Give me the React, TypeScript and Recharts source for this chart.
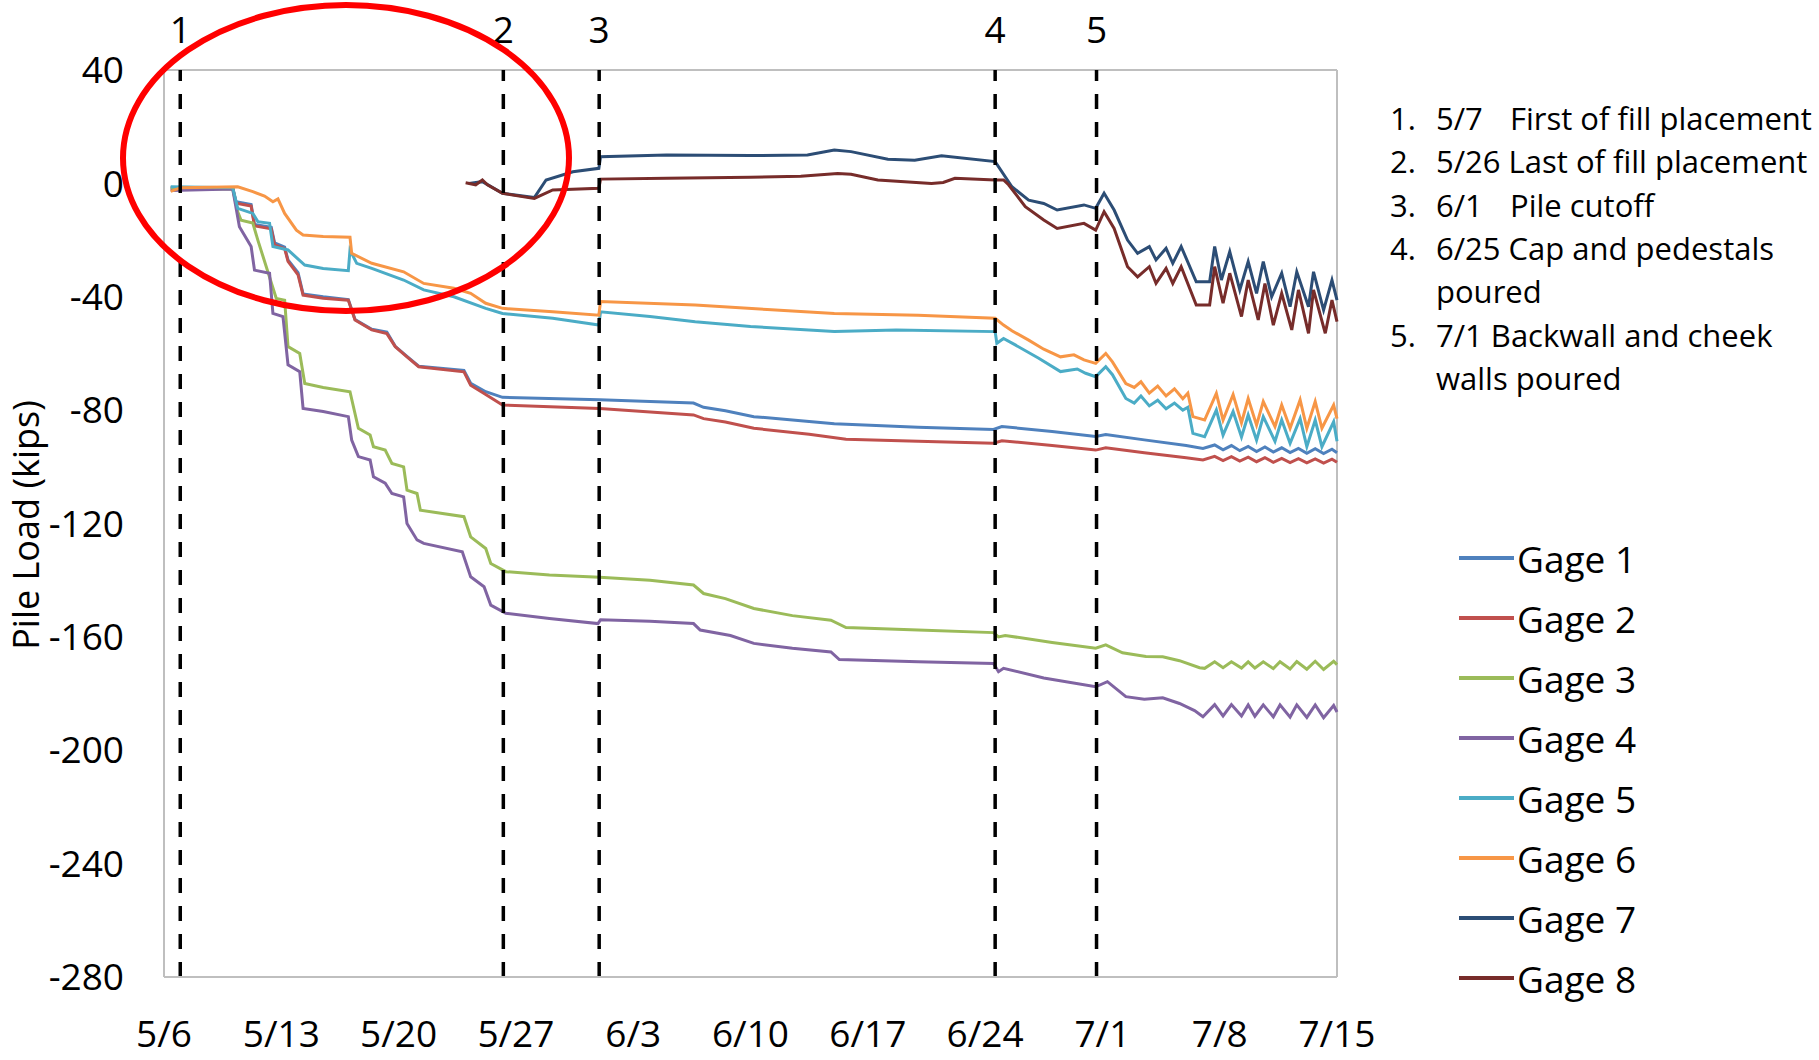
import { LineChart, Line, XAxis, YAxis, ReferenceLine } from "recharts";

type Pt = [number, number];

// days counted from 5/6
const dayTicks = [0, 7, 14, 21, 28, 35, 42, 49, 56, 63, 70];
const dateLabels = ["5/6", "5/13", "5/20", "5/27", "6/3", "6/10", "6/17", "6/24", "7/1", "7/8", "7/15"];
const loadTicks = [-280, -240, -200, -160, -120, -80, -40, 0, 40];

const eventDays = [0.97, 20.25, 25.97, 49.6, 55.65];
const eventDates = ["5/7", "5/26", "6/1", "6/25", "7/1"];
const eventTabbed = [true, false, true, false, false];
const eventNotes = [
  ["First of fill placement"],
  ["Last of fill placement"],
  ["Pile cutoff"],
  ["Cap and pedestals", "poured"],
  ["Backwall and cheek", "walls poured"],
];

const gageNames = ["Gage 1", "Gage 2", "Gage 3", "Gage 4", "Gage 5", "Gage 6", "Gage 7", "Gage 8"];
const gageColors = ["#4F81BD", "#C0504D", "#9BBB59", "#8064A2", "#4BACC6", "#F79646", "#2C4D75", "#772C2A"];

const gage1: Pt[] = [
  [0.4, -1.5], [4.1, -1.5], [4.3, -6.5], [5.2, -7.5], [5.4, -14.5], [6.4, -15.5], [6.6, -21], [7.2, -22.5],
  [7.4, -27], [8.0, -31.5], [8.3, -39], [9.5, -40], [11.0, -41], [11.4, -48], [12.4, -51.5], [13.3, -52.5],
  [13.8, -57.5], [14.5, -61], [15.2, -64.5], [17.9, -66], [18.3, -70.5], [19.2, -73.5], [20.2, -75.5],
  [26, -76.3], [31.6, -77.5], [32.2, -79], [33.5, -80.2], [35.2, -82.3], [38.5, -84], [40, -84.8], [45, -86],
  [49.5, -86.8], [50, -85.8], [53, -87.5], [55.6, -89.3], [56.2, -88.6], [58.5, -90.5], [61, -92.5], [62, -93.5],
  [62.7, -92.3], [63.2, -94], [63.7, -92.5], [64.2, -94.3], [64.7, -92.8], [65.2, -94.6], [65.7, -93], [66.2, -94.8],
  [66.7, -93.3], [67.2, -95], [67.7, -93.5], [68.2, -95.2], [68.7, -93.6], [69.2, -95.3], [69.7, -93.8], [70, -95],
];

const gage2: Pt[] = [
  [0.4, -1.5], [4.1, -1.5], [4.3, -7], [5.2, -8], [5.4, -15], [6.4, -16], [6.6, -21.7], [7.2, -23],
  [7.4, -27.5], [8.0, -32.3], [8.3, -39.4], [9.5, -40.5], [11.0, -41.2], [11.4, -48.2], [12.4, -51.7], [13.3, -53],
  [13.8, -57.6], [14.5, -61.2], [15.2, -64.7], [17.9, -66.5], [18.3, -71.2], [19.2, -74.5], [20.2, -78.2],
  [26, -79.4], [31.6, -81.7], [32.2, -83], [33.5, -84.2], [35.2, -86.4], [38.5, -88.5], [40.7, -90.3], [45, -91],
  [49.5, -91.7], [50, -90.8], [53, -92.5], [55.6, -94.1], [56.2, -93.3], [58.5, -95], [61, -96.8], [62, -97.6],
  [62.7, -96.3], [63.2, -97.8], [63.7, -96.4], [64.2, -98], [64.7, -96.6], [65.2, -98.2], [65.7, -96.8], [66.2, -98.4],
  [66.7, -97], [67.2, -98.5], [67.7, -97.1], [68.2, -98.6], [68.7, -97.2], [69.2, -98.7], [69.7, -97.3], [70, -98.4],
];

const gage3: Pt[] = [
  [0.4, -2], [4.1, -2], [4.4, -10], [4.6, -13], [5.3, -14], [5.6, -20], [6.7, -40.6], [7.2, -41.2],
  [7.4, -57.6], [8.1, -60], [8.4, -70.6], [9.5, -72], [11.1, -73.5], [11.6, -86.4], [12.3, -88.8], [12.5, -92.9],
  [13.2, -94.1], [13.6, -98.8], [14.3, -100], [14.5, -108.2], [15.1, -109.4], [15.3, -115.3], [17.9, -117.6],
  [18.3, -124.7], [19.2, -128.8], [19.5, -134.1], [20.4, -137], [23, -138.2], [26, -139], [29, -140],
  [31.6, -141.7], [32.2, -144.7], [33.5, -146.5], [35.2, -150], [37.5, -152.5], [39.8, -154.1], [40.7, -156.7],
  [45, -157.6], [49.5, -158.5], [49.8, -160], [50.2, -159.5], [53, -162], [55.6, -164], [56.2, -162.8],
  [57.2, -165.6], [58.6, -166.9], [59.6, -167], [60.6, -168.4], [61.8, -170.9], [62.1, -171.1], [62.7, -168.8],
  [63.2, -170.9], [63.7, -168.8], [64.3, -171], [64.7, -168.8], [65.1, -171], [65.6, -168.8], [66.2, -171.2],
  [66.6, -168.8], [67.2, -171.3], [67.6, -168.7], [68.2, -171.4], [68.7, -168.6], [69.2, -171.5], [69.8, -168.6],
  [70, -169.8],
];

const gage4: Pt[] = [
  [0.4, -2.5], [4.1, -2], [4.5, -15.3], [5.2, -22.3], [5.4, -30.6], [6.3, -31.7], [6.5, -45.9], [7.1, -47],
  [7.4, -64], [8.1, -66.4], [8.3, -79.4], [9.5, -80.5], [11.0, -82.3], [11.2, -90.6], [11.6, -96.4], [12.3, -97.6],
  [12.5, -103.5], [13.2, -105.8], [13.6, -109.4], [14.3, -110.6], [14.5, -120], [15.1, -125.8], [15.5, -127],
  [17.8, -130], [18.3, -138.8], [19.1, -142.3], [19.5, -148.8], [20.4, -151.7], [23, -153.5], [25.9, -155.3],
  [26.05, -154], [29, -154.5], [31.6, -155.3], [32, -157.6], [33.8, -159.5], [35.2, -162.3], [37.5, -164],
  [39.8, -165.3], [40.3, -168], [45, -168.8], [49.5, -169.4], [49.8, -172.3], [50.1, -171.1], [52.5, -174.5],
  [55.6, -177.6], [56.3, -175.8], [57.4, -181.1], [58.5, -182], [59.6, -181.5], [60.6, -183.5], [61.5, -186],
  [62, -188.2], [62.7, -183.9], [63.2, -187.9], [63.7, -183.9], [64.3, -187.9], [64.7, -184], [65.1, -188],
  [65.6, -184], [66.2, -188.2], [66.6, -184], [67.2, -188.3], [67.6, -184], [68.2, -188.4], [68.7, -184],
  [69.2, -188.5], [69.8, -184.2], [70, -186.5],
];

const gage5: Pt[] = [
  [0.4, -1.2], [4.1, -1.5], [4.4, -8.8], [5.3, -10.6], [5.6, -13.5], [6.3, -14.1], [6.5, -22.3], [7.4, -23.5],
  [8.4, -28.8], [9.5, -30], [11.0, -30.8], [11.1, -23.5], [11.5, -28.2], [12.4, -30], [14.3, -34.1], [15.5, -37.6],
  [17.3, -40], [19.2, -44.1], [20.2, -45.9], [23.2, -47.6], [25.95, -50], [26.05, -45.3], [29, -47], [31.7, -48.8],
  [35, -50.5], [40, -52.3], [43.7, -51.7], [49.6, -52.3], [49.7, -56.4], [50.1, -54.7], [50.8, -57], [52.2, -61.7],
  [53.5, -66.4], [54.5, -65.5], [55, -67], [55.6, -68.2], [56.2, -64.7], [56.6, -67.5], [57.4, -75.9], [57.9, -77.5],
  [58.3, -75], [58.8, -78.5], [59.3, -76.5], [59.8, -79.5], [60.3, -77.5], [60.8, -80], [61.1, -79], [61.4, -88.2],
  [62.1, -89.4], [62.8, -80], [63.2, -88.8], [63.8, -80.5], [64.3, -89.5], [64.7, -81.7], [65.2, -90.6], [65.6, -82.3],
  [66.3, -91], [66.7, -83.5], [67.2, -91.7], [67.8, -83], [68.2, -92.9], [68.7, -83.5], [69.1, -92.9], [69.8, -84.1],
  [70, -91],
];

const gage6: Pt[] = [
  [0.4, -2.8], [1, -1.5], [4.4, -1.2], [5.3, -2.9], [6.0, -4.5], [6.5, -6.5], [6.8, -5.5], [7.2, -10.6],
  [7.9, -16.5], [8.3, -18.2], [9.5, -18.7], [11.1, -19], [11.2, -24.7], [12.4, -28.2], [14.3, -31.2], [15.5, -35.3],
  [17.3, -37], [18.3, -38.8], [19.2, -42.3], [20.2, -44.1], [23.2, -45.3], [25.95, -46.5], [26.05, -41.7],
  [31.7, -42.9], [36, -44.5], [40, -45.9], [45, -46.5], [49.6, -47.6], [50.1, -50], [50.6, -52], [51.6, -55.3],
  [52.5, -58.5], [53.5, -61.2], [54.3, -60.5], [54.9, -62.3], [55.6, -63.5], [56.2, -60], [56.6, -63], [57.4, -70.6],
  [57.9, -72], [58.3, -70], [58.8, -74], [59.3, -71.5], [59.8, -75], [60.3, -72.5], [60.8, -76], [61.1, -74],
  [61.4, -82.3], [62.1, -83.5], [62.8, -74.1], [63.2, -83.5], [63.8, -74.5], [64.3, -84.5], [64.7, -75.9],
  [65.2, -85.3], [65.6, -77], [66.3, -85.8], [66.7, -78.2], [67.2, -86.4], [67.8, -76.4], [68.2, -86.4],
  [68.7, -77], [69.1, -86.4], [69.8, -78.2], [70, -83],
];

const gage7: Pt[] = [
  [18.2, 0], [19, 0.6], [20.2, -3.5], [22.1, -5], [22.8, 1.2], [24.4, 4.1], [25.95, 5.3], [26.05, 9.4],
  [30, 10], [35, 9.8], [38.4, 10], [40, 11.8], [41, 11.2], [43.2, 8.5], [44.8, 8.2], [46.4, 9.7], [49.6, 7.7],
  [50.6, -1.2], [51.6, -5.9], [52.5, -7.1], [53.3, -9.4], [54.9, -7.6], [55.6, -8.8], [56.1, -3.5], [56.7, -9.4],
  [57.5, -20], [58.1, -24.7], [58.8, -22.3], [59.2, -27], [59.8, -22.9], [60.2, -28.2], [60.7, -22.3],
  [61.6, -34.7], [62.4, -34.7], [62.7, -22.3], [63.1, -34.1], [63.6, -24.1], [64.2, -37.6], [64.7, -27.6],
  [65.2, -38.8], [65.6, -27.6], [66.1, -40], [66.7, -31.7], [67.2, -43.5], [67.6, -31.2], [68.3, -43.5],
  [68.6, -31.2], [69.2, -44.7], [69.7, -34.1], [70, -41.2],
];

const gage8: Pt[] = [
  [18.0, 0.2], [18.6, -0.5], [19, 1.2], [19.3, -0.5], [20.2, -3.5], [22.1, -5.3], [23.2, -2.3], [25.95, -1.75],
  [26.05, 1.5], [30, 1.8], [35, 2.2], [38, 2.5], [40.2, 3.5], [41, 3.2], [42.6, 1.2], [45.8, 0], [46.5, 0.3],
  [47.2, 1.8], [49.6, 1.2], [50.1, 1.2], [50.4, -0.5], [51.4, -8.2], [52.5, -12.9], [53.3, -15.9], [54.9, -14.1],
  [55.6, -16.5], [56.1, -10], [56.7, -15.9], [57.5, -29.4], [58.1, -33], [58.8, -29.4], [59.2, -35.3], [59.8, -30],
  [60.2, -35.3], [60.7, -29.4], [61.6, -42.9], [62.4, -42.9], [62.7, -29.4], [63.2, -42.3], [63.6, -31.7],
  [64.3, -47], [64.7, -34.1], [65.3, -48.2], [65.7, -35.3], [66.2, -50], [66.7, -38.8], [67.3, -51.7],
  [67.7, -37.6], [68.3, -52.9], [68.6, -37.6], [69.3, -52.9], [69.7, -41.2], [70, -48.8],
];

const gages = [gage1, gage2, gage3, gage4, gage5, gage6, gage7, gage8];

const toRows = (pts: Pt[]) => pts.map(([day, load]) => ({ day, load }));

const FONT = "'Open Sans', 'Noto Sans', sans-serif";
const AXIS_GRAY = "#bfbfbf";

export default function App() {
  return (
    <div
      style={{
        position: "absolute",
        left: 0,
        top: 0,
        width: 1819,
        height: 1060,
        background: "#fff",
        fontFamily: FONT,
      }}
    >
      <LineChart width={1819} height={1060} margin={{ top: 70, right: 482, bottom: 23, left: 44 }}>
        <XAxis
          dataKey="day"
          type="number"
          domain={[0, 70]}
          ticks={dayTicks}
          interval={0}
          tickFormatter={(d: number) => dateLabels[dayTicks.indexOf(d)]}
          stroke={AXIS_GRAY}
          strokeWidth={2}
          tickLine={false}
          tickSize={0}
          tickMargin={44}
          height={60}
          tick={{ fill: "#000", fontSize: 37 }}
        />
        <YAxis
          type="number"
          domain={[-280, 40]}
          ticks={loadTicks}
          interval={0}
          stroke={AXIS_GRAY}
          strokeWidth={2}
          tickLine={false}
          tickSize={0}
          tickMargin={40}
          width={120}
          tick={{ fill: "#000", fontSize: 37 }}
        />
        <ReferenceLine y={40} stroke={AXIS_GRAY} strokeWidth={2} />
        <ReferenceLine x={70} stroke={AXIS_GRAY} strokeWidth={2} />
        {gages.map((pts, i) => (
          <Line
            key={gageNames[i]}
            data={toRows(pts)}
            dataKey="load"
            name={gageNames[i]}
            type="linear"
            stroke={gageColors[i]}
            strokeWidth={3}
            dot={false}
            activeDot={false}
            isAnimationActive={false}
          />
        ))}
        {eventDays.map((d, i) => (
          <ReferenceLine
            key={`ev-${i}`}
            x={d}
            stroke="#000"
            strokeWidth={3.5}
            strokeDasharray="15 13"
            label={{ value: String(i + 1), position: "top", offset: 27, fill: "#000", fontSize: 37 }}
          />
        ))}
      </LineChart>

      {/* legend */}
      <div style={{ position: "absolute", left: 1459, top: 528 }}>
        {gageNames.map((name, i) => (
          <div key={name} style={{ height: 60, display: "flex", alignItems: "center" }}>
            <div style={{ width: 55, height: 4, background: gageColors[i] }} />
            <span style={{ marginLeft: 3, fontSize: 37, color: "#000", lineHeight: 1 }}>{name}</span>
          </div>
        ))}
      </div>

      <svg
        width={1819}
        height={1060}
        style={{ position: "absolute", left: 0, top: 0, pointerEvents: "none", fontFamily: FONT }}
      >
        <text
          transform="translate(25,525) rotate(-90)"
          textAnchor="middle"
          dominantBaseline="central"
          fontSize={36}
          fill="#000"
        >
          Pile Load (kips)
        </text>
        <ellipse cx={346} cy={158} rx={223} ry={153} fill="none" stroke="#ff0000" strokeWidth={6} />
        {(() => {
          let row = 0;
          const out: JSX.Element[] = [];
          eventNotes.forEach((lines, i) => {
            lines.forEach((ln, j) => {
              const y = 118 + row * 43.3;
              if (j === 0) {
                out.push(
                  <text key={`n${i}`} x={1390} y={y} fontSize={31} dominantBaseline="central" fill="#000">
                    {`${i + 1}.`}
                  </text>
                );
                if (eventTabbed[i]) {
                  out.push(
                    <text key={`d${i}`} x={1436} y={y} fontSize={31} dominantBaseline="central" fill="#000">
                      {eventDates[i]}
                    </text>,
                    <text key={`t${i}`} x={1510} y={y} fontSize={31} dominantBaseline="central" fill="#000">
                      {ln}
                    </text>
                  );
                } else {
                  out.push(
                    <text key={`t${i}`} x={1436} y={y} fontSize={31} dominantBaseline="central" fill="#000">
                      {`${eventDates[i]} ${ln}`}
                    </text>
                  );
                }
              } else {
                out.push(
                  <text key={`t${i}-${j}`} x={1436} y={y} fontSize={31} dominantBaseline="central" fill="#000">
                    {ln}
                  </text>
                );
              }
              row++;
            });
          });
          return out;
        })()}
      </svg>
    </div>
  );
}
